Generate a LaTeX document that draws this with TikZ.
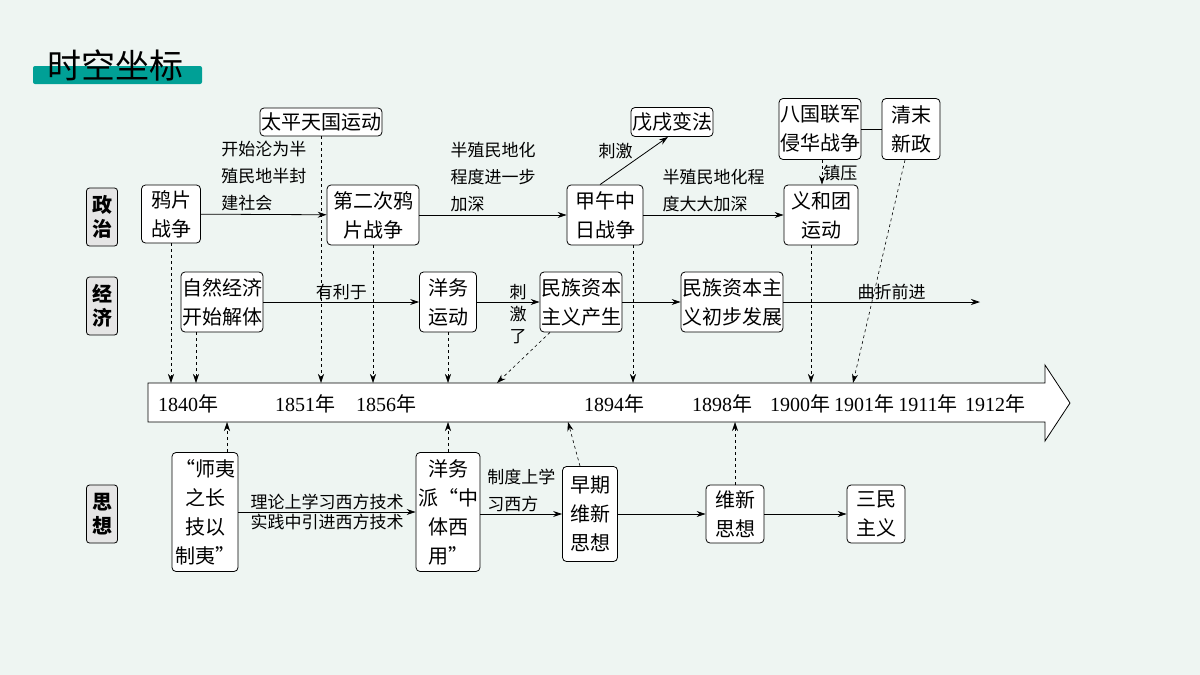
\documentclass[tikz,border=0pt]{standalone}
\usepackage{fontspec}
\setmainfont{Liberation Serif}
\newfontfamily\cjk{Noto Sans CJK SC}
\usetikzlibrary{arrows.meta, positioning}
\definecolor{bgpaper}{RGB}{238,245,242}
\definecolor{teal}{RGB}{0,160,150}
\begin{document}
\begin{tikzpicture}[x=1pt, y=-1pt, >={Stealth[length=9pt,width=6pt]}, font=\cjk\fontsize{20}{29}\selectfont]
        % Styles
        \tikzstyle{box} = [rectangle, draw, thick, fill=white, rounded corners=4pt, align=center, inner sep=1pt]
        \tikzstyle{tag} = [rectangle, draw, thick, fill=gray!20, rounded corners=3pt, align=center, minimum width=31pt, minimum height=58pt, inner sep=1pt, font=\cjk\bfseries\fontsize{20}{24}\selectfont]
        \tikzstyle{line} = [draw, thick, ->]
        \tikzstyle{dline} = [draw, semithick, dashed, ->]
        \tikzstyle{lbl} = [align=left, inner sep=1pt, font=\cjk\fontsize{17}{27}\selectfont]

        \useasboundingbox[fill=bgpaper] (0,0) rectangle (1200,675);

        % Title
        \fill[teal, rounded corners=2pt] (33,66) rectangle (202,84);
        \node (title) at (115,65) {\fontsize{34}{34}\selectfont 时空坐标};

        % Row tags
        \node (zz) [tag] at (102,217) {政\\治};
        \node (jj) [tag] at (102,306) {经\\济};
        \node (sx) [tag] at (102,514) {思\\想};

        % Timeline
        \draw[thick, fill=white] (148,383) -- (1045,383) -- (1045,365) -- (1070,403) -- (1045,441) -- (1045,422) -- (148,422) -- cycle;
        \coordinate (axtop) at (0,383);
        \coordinate (axbot) at (0,422);
        \foreach \x/\y in {188/1840, 305/1851, 386/1856, 614/1894, 722/1898, 800/1900, 864/1901, 928/1911, 995/1912}
            \node[font=\fontsize{20}{20}\selectfont, inner sep=0pt] at (\x,404) {\y{\cjk 年}};

        % Politics
        \node (yp) [box, minimum width=59pt, minimum height=58pt] at (171,214) {鸦片\\战争};
        \node (tp) [box, minimum height=28pt] at (321,122) {太平天国运动};
        \node (dec) [box, minimum width=92pt, minimum height=60pt] at (373,215) {第二次鸦\\片战争};
        \node (jw) [box, minimum width=76pt, minimum height=60pt] at (605,215) {甲午中\\日战争};
        \node (wx) [box, minimum height=29pt] at (672,122) {戊戌变法};
        \node (yh) [box, minimum width=74pt, minimum height=60pt] at (821,215) {义和团\\运动};
        \node (bg) [box, minimum height=61pt] at (820,129) {八国联军\\侵华战争};
        \node (qm) [box, minimum width=58pt, minimum height=61pt] at (911,129) {清末\\新政};

        % Economy
        \node (zr) [box, minimum height=60pt] at (222,302) {自然经济\\开始解体};
        \node (ywyd) [box, minimum width=57pt, minimum height=60pt] at (448,302) {洋务\\运动};
        \node (mzcs) [box, minimum height=60pt] at (581,302) {民族资本\\主义产生};
        \node (mzfz) [box, minimum height=60pt] at (732,302) {民族资本主\\义初步发展};
        \coordinate (jjend) at (980,302);

        % Thought
        \node (sy) [box, minimum width=66pt, minimum height=119pt] at (205,512) {“师夷\\之长\\技以\\制夷”};
        \node (ywp) [box, minimum width=64pt, minimum height=119pt] at (448,512) {洋务\\派“中\\体西\\用”};
        \node (zq) [box, minimum width=55pt, minimum height=95pt] at (590,514) {早期\\维新\\思想};
        \node (wxsx) [box, minimum width=58pt, minimum height=58pt] at (735,514) {维新\\思想};
        \node (sm) [box, minimum width=58pt, minimum height=58pt] at (876,514) {三民\\主义};

        % Solid connectors
        \path [line] (yp) -- node [lbl, above=2pt] {开始沦为半\\殖民地半封\\建社会} (dec);
        \path [line] (dec) -- node [lbl, above=2pt] {半殖民地化\\程度进一步\\加深} (jw);
        \path [line] (jw) -- node [lbl, above=2pt] {半殖民地化程\\度大大加深} (yh);
        \coordinate (jwn) at ([xshift=-5pt]jw.north);
        \coordinate (wxs) at ([xshift=-4pt]wx.south);
        \path [line] (jwn) -- node [lbl, above left=0pt] {刺激} (wxs);
        \draw [thick] (bg) -- (qm);
        \path [line] (zr) -- node [lbl, above=1pt] {有利于} (ywyd);
        \path [line] (ywyd) -- node [lbl, right=0pt, yshift=-12pt, align=center, font=\cjk\fontsize{17}{22}\selectfont] {刺\\激\\了} (mzcs);
        \path [line] (mzcs) -- (mzfz);
        \path [line] (mzfz) -- node [lbl, above=1pt, pos=0.55] {曲折前进} (jjend);
        \path [line] (sy) -- node [lbl, above=1pt, font=\cjk\fontsize{17}{20}\selectfont] {理论上学习西方技术} node [lbl, below=1pt, font=\cjk\fontsize{17}{20}\selectfont] {实践中引进西方技术} (ywp);
        \path [line] (ywp.east |- zq) -- node [lbl, above=1pt, font=\cjk\fontsize{17}{27}\selectfont] {制度上学\\习西方} (zq);
        \path [line] (zq) -- (wxsx);
        \path [line] (wxsx) -- (sm);

        % Dashed connectors to the timeline
        \path [dline] (yp.south) -- (yp.south |- axtop);
        \path [dline] ([xshift=-26pt]zr.south) -- ([xshift=-26pt]zr.south |- axtop);
        \path [dline] (tp.south) -- (tp.south |- axtop);
        \path [dline] (dec.south) -- (dec.south |- axtop);
        \path [dline] (ywyd.south) -- (ywyd.south |- axtop);
        \path [dline] ([xshift=-31pt]mzcs.south) -- (497,383);
        \path [dline] ([xshift=28pt]jw.south) -- ([xshift=28pt]jw.south |- axtop);
        \path [dline] ([xshift=-10pt]yh.south) -- ([xshift=-10pt]yh.south |- axtop);
        \path [dline] ([xshift=-6pt]qm.south) -- (853,383);
        \path [dline] ([xshift=2pt]bg.south) -- node [lbl, right=0pt, yshift=-1pt] {镇压} ([xshift=2pt]bg.south |- yh.north);
        \path [dline] ([xshift=22pt]sy.north) -- ([xshift=22pt]sy.north |- axbot);
        \path [dline] (ywp.north) -- (ywp.north |- axbot);
        \path [dline] ([xshift=-10pt]zq.north) -- (568,422);
        \path [dline] (wxsx.north) -- (wxsx.north |- axbot);
    \end{tikzpicture}
\end{document}
